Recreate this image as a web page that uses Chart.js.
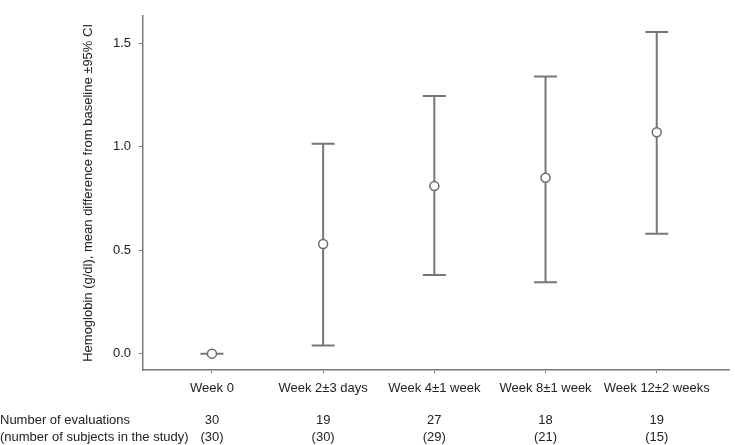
<!DOCTYPE html>
<html>
<head>
<meta charset="utf-8">
<script src="https://cdn.jsdelivr.net/npm/chart.js@4.4.1/dist/chart.umd.min.js"></script>
<style>
  html, body { margin: 0; padding: 0; background: #fff; }
  #wrap { width: 735px; height: 445px; }
</style>
</head>
<body>
<div id="wrap"><canvas id="chart"></canvas></div>
<script>
// --- Data ---
const weekLabels = ["Week 0", "Week 2\u00b13 days", "Week 4\u00b11 week", "Week 8\u00b11 week", "Week 12\u00b12 weeks"];
const meanDiff = [0, 0.53, 0.81, 0.85, 1.07];
const ciLower = [0, 0.04, 0.38, 0.345, 0.58];
const ciUpper = [0, 1.015, 1.245, 1.34, 1.555];
const evaluations = ["30", "19", "27", "18", "19"];
const subjects = ["(30)", "(30)", "(29)", "(21)", "(15)"];
const yTicks = [0, 0.5, 1.0, 1.5];

const axisGray = "#7a7a7a";
const barGray = "#767676";
const textColor = "#222";
const fontFamily = "'Liberation Sans', Arial, sans-serif";

// error bars drawn under the points
const errorBars = {
  id: "errorBars",
  beforeDatasetsDraw(chart) {
    const { ctx, scales: { x, y } } = chart;
    const capHalf = 11.5;
    ctx.save();
    ctx.strokeStyle = barGray;
    ctx.lineWidth = 2;
    ciLower.forEach((lo, i) => {
      const px = x.getPixelForValue(i);
      const yLo = y.getPixelForValue(lo);
      const yHi = y.getPixelForValue(ciUpper[i]);
      ctx.beginPath();
      ctx.moveTo(px, yLo);
      ctx.lineTo(px, yHi);
      ctx.moveTo(px - capHalf, yLo);
      ctx.lineTo(px + capHalf, yLo);
      ctx.moveTo(px - capHalf, yHi);
      ctx.lineTo(px + capHalf, yHi);
      ctx.stroke();
    });
    ctx.restore();
  }
};

// counts table under the x axis
const countRows = {
  id: "countRows",
  afterDraw(chart) {
    const { ctx, scales: { x } } = chart;
    ctx.save();
    ctx.fillStyle = textColor;
    ctx.font = "13px " + fontFamily;
    ctx.textBaseline = "middle";
    ctx.textAlign = "left";
    ctx.fillText("Number of evaluations", 0, 420);
    ctx.fillText("(number of subjects in the study)", 0, 437);
    ctx.textAlign = "center";
    evaluations.forEach((n, i) => {
      const px = x.getPixelForValue(i);
      ctx.fillText(n, px, 420);
      ctx.fillText(subjects[i], px, 437);
    });
    ctx.restore();
  }
};

new Chart(document.getElementById("chart"), {
  type: "scatter",
  data: {
    datasets: [{
      data: meanDiff.map((v, i) => ({ x: i, y: v })),
      pointRadius: 4.5,
      pointHoverRadius: 4.5,
      pointBackgroundColor: "#fff",
      pointBorderColor: "#6a6a6a",
      pointBorderWidth: 1.5
    }]
  },
  options: {
    responsive: true,
    maintainAspectRatio: false,
    animation: false,
    events: [],
    layout: { padding: { left: 80, top: 4, right: 0, bottom: 0 } },
    plugins: { legend: { display: false }, tooltip: { enabled: false } },
    scales: {
      x: {
        type: "linear",
        min: -0.62,
        max: 4.65,
        afterBuildTicks: (scale) => { scale.ticks = weekLabels.map((_, i) => ({ value: i })); },
        afterFit: (scale) => { scale.height = 75; },
        border: { color: axisGray, width: 1.5 },
        grid: { drawOnChartArea: false, color: axisGray, tickLength: 3 },
        ticks: {
          color: textColor,
          font: { family: fontFamily, size: 13 },
          padding: 8,
          maxRotation: 0,
          autoSkip: false,
          callback: (v) => weekLabels[v]
        }
      },
      y: {
        min: -0.079,
        max: 1.633,
        afterBuildTicks: (scale) => { scale.ticks = yTicks.map((v) => ({ value: v })); },
        afterFit: (scale) => { scale.width = 63; },
        border: { color: axisGray, width: 1.5 },
        grid: { drawOnChartArea: false, color: axisGray, tickLength: 4 },
        ticks: {
          color: textColor,
          font: { family: fontFamily, size: 13 },
          padding: 8,
          callback: (v) => v.toFixed(1)
        },
        title: {
          display: true,
          text: "Hemoglobin (g/dl), mean difference from baseline \u00b195% CI",
          color: textColor,
          font: { family: fontFamily, size: 13 },
          padding: { top: 1, bottom: 0 }
        }
      }
    }
  },
  plugins: [errorBars, countRows]
});
</script>
</body>
</html>
